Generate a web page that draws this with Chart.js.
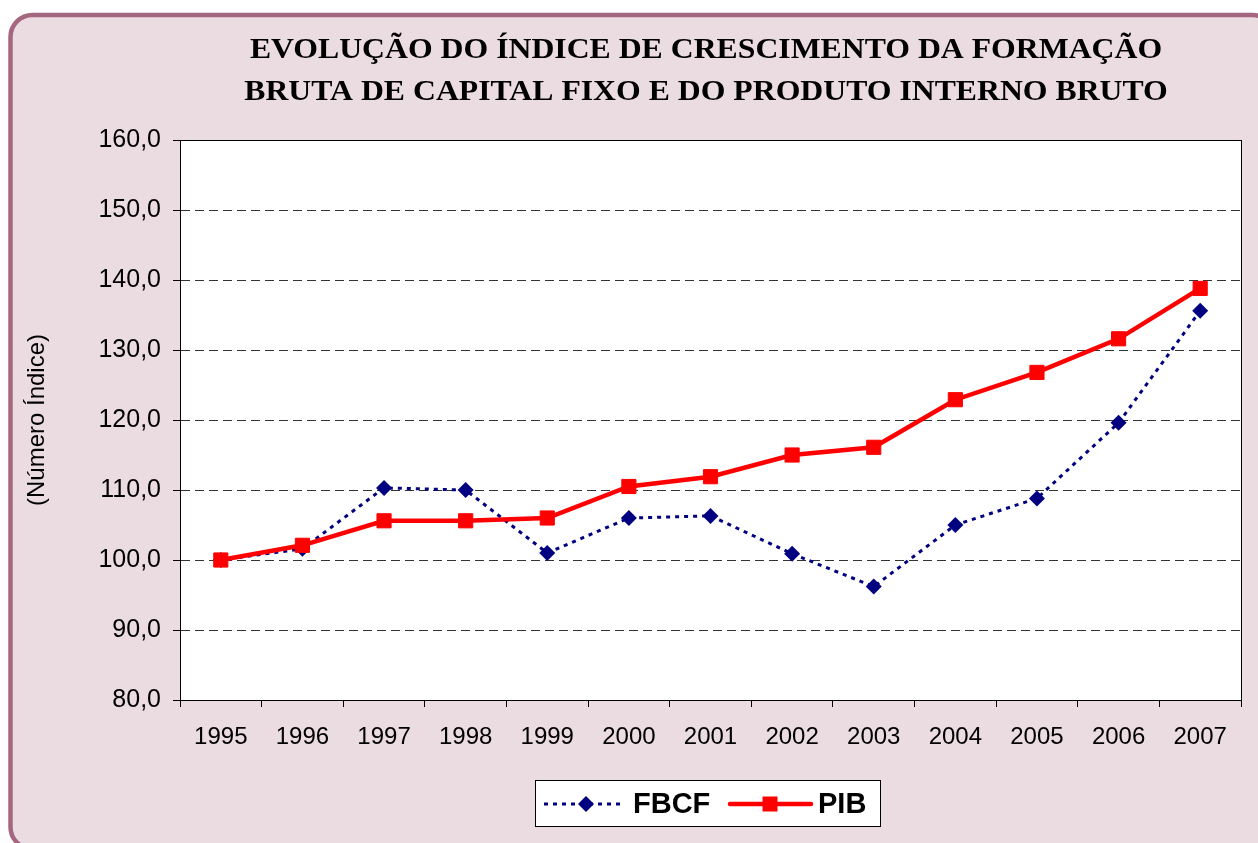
<!DOCTYPE html>
<html>
<head>
<meta charset="utf-8">
<script src="https://cdn.jsdelivr.net/npm/chart.js@4/dist/chart.umd.min.js"></script>
<style>
  html, body { margin: 0; padding: 0; background: #ffffff; }
  canvas { display: block; }
</style>
</head>
<body>
<canvas id="chart" width="1258" height="843"></canvas>
<script>
// values
const years = ['1995', '1996', '1997', '1998', '1999', '2000', '2001', '2002', '2003', '2004', '2005', '2006', '2007'];
const fbcf = [100.0, 101.6, 110.3, 110.0, 101.0, 106.0, 106.3, 100.9, 96.2, 105.0, 108.8, 119.6, 135.6];
const pib = [100.0, 102.1, 105.6, 105.6, 106.0, 110.5, 111.9, 115.0, 116.1, 122.9, 126.8, 131.6, 138.8];
const titleLines = ['EVOLUÇÃO DO ÍNDICE DE CRESCIMENTO DA FORMAÇÃO', 'BRUTA DE CAPITAL FIXO E DO PRODUTO INTERNO BRUTO'];
const yTitle = '(Número Índice)';

const NAVY = '#000080';
const RED = '#ff0000';

// outer pink box, white plot area, frame, title and legend
const decorPlugin = {
    id: 'decor',
    beforeDraw(chart) {
        const ctx = chart.ctx;
        const a = chart.chartArea;
        ctx.save();
        ctx.fillStyle = '#ffffff';
        ctx.fillRect(0, 0, chart.width, chart.height);
        ctx.beginPath();
        ctx.roundRect(10.5, 15, 1264, 834, 22);
        ctx.fillStyle = '#ebdce2';
        ctx.fill();
        ctx.lineWidth = 4.5;
        ctx.strokeStyle = '#a4677f';
        ctx.stroke();
        ctx.fillStyle = '#ffffff';
        ctx.fillRect(a.left, a.top, a.right - a.left, a.bottom - a.top);
        ctx.restore();
    },
    afterDraw(chart) {
        const ctx = chart.ctx;
        const a = chart.chartArea;
        ctx.save();
        // plot frame
        ctx.strokeStyle = '#000';
        ctx.lineWidth = 1;
        ctx.strokeRect(Math.round(a.left) + 0.5, Math.round(a.top) + 0.5, Math.round(a.right - a.left), Math.round(a.bottom - a.top));

        // title
        ctx.fillStyle = '#000';
        ctx.font = 'bold 30px "Liberation Serif", "Times New Roman", serif';
        ctx.textAlign = 'center';
        ctx.textBaseline = 'alphabetic';
        titleLines.forEach((line, i) => {
            ctx.save();
            ctx.translate(706, 58 + i * 42);
            ctx.scale(1.058, 1);
            ctx.fillText(line, 0, 0);
            ctx.restore();
        });

        // legend
        const lx = 535, ly = 780, lw = 345, lh = 46;
        ctx.fillStyle = '#fff';
        ctx.fillRect(lx, ly, lw, lh);
        ctx.strokeStyle = '#000';
        ctx.strokeRect(lx + 0.5, ly + 0.5, lw, lh);
        const cy = ly + 24;

        ctx.strokeStyle = NAVY;
        ctx.lineWidth = 3;
        ctx.setLineDash([4, 5]);
        ctx.beginPath();
        ctx.moveTo(544, cy);
        ctx.lineTo(622, cy);
        ctx.stroke();
        ctx.setLineDash([]);
        ctx.fillStyle = NAVY;
        ctx.beginPath();
        ctx.moveTo(586 - 8, cy);
        ctx.lineTo(586, cy - 8);
        ctx.lineTo(586 + 8, cy);
        ctx.lineTo(586, cy + 8);
        ctx.closePath();
        ctx.fill();

        ctx.strokeStyle = RED;
        ctx.lineWidth = 4.5;
        ctx.lineCap = 'round';
        ctx.beginPath();
        ctx.moveTo(730, cy);
        ctx.lineTo(811, cy);
        ctx.stroke();
        ctx.fillStyle = RED;
        ctx.fillRect(770 - 7.5, cy - 7.5, 15, 15);

        ctx.fillStyle = '#000';
        ctx.font = 'bold 29px "Liberation Sans", Arial, sans-serif';
        ctx.textAlign = 'left';
        ctx.textBaseline = 'middle';
        ctx.fillText('FBCF', 633, cy + 1);
        ctx.fillText('PIB', 818, cy + 1);
        ctx.restore();
    }
};

const xFont = { family: '"Liberation Sans", Arial, sans-serif', size: 24 };
const yFont = { family: '"Liberation Sans", Arial, sans-serif', size: 25 };

new Chart(document.getElementById('chart'), {
    type: 'line',
    data: {
        labels: years,
        datasets: [
            {
                label: 'FBCF',
                data: fbcf,
                order: 1,
                borderColor: NAVY,
                backgroundColor: NAVY,
                borderWidth: 3,
                borderDash: [4, 5],
                tension: 0,
                pointStyle: 'rectRot',
                pointRadius: 8,
                pointBorderWidth: 0,
                pointBackgroundColor: NAVY,
                fill: false
            },
            {
                label: 'PIB',
                data: pib,
                order: 0,
                borderColor: RED,
                backgroundColor: RED,
                borderWidth: 4.5,
                tension: 0,
                pointStyle: 'rect',
                pointRadius: 10,
                pointBorderWidth: 1,
                pointBackgroundColor: RED,
                pointBorderColor: RED,
                fill: false
            }
        ]
    },
    options: {
        responsive: false,
        animation: false,
        devicePixelRatio: 1,
        layout: { padding: { left: 0, top: 140, right: 17, bottom: 0 } },
        plugins: {
            legend: { display: false },
            title: { display: false },
            tooltip: { enabled: false }
        },
        scales: {
            x: {
                offset: true,
                afterFit: (scale) => { scale.height = 143; },
                grid: {
                    offset: true,
                    drawOnChartArea: false,
                    tickLength: 7,
                    tickColor: '#000',
                    color: '#000'
                },
                border: { color: '#000', width: 1 },
                ticks: { color: '#000', font: xFont, padding: 16, maxRotation: 0, autoSkip: false }
            },
            y: {
                min: 80,
                max: 160,
                afterFit: (scale) => { scale.width = 180; },
                grid: {
                    color: '#333',
                    tickLength: 7,
                    tickColor: '#000',
                    tickBorderDash: []
                },
                border: { color: '#000', width: 1, dash: [9, 5] },
                ticks: {
                    stepSize: 10,
                    color: '#000',
                    font: yFont,
                    padding: 12,
                    callback: (v) => v.toFixed(1).replace('.', ',')
                },
                title: {
                    display: true,
                    text: yTitle,
                    color: '#000',
                    font: xFont,
                    padding: { top: 23, bottom: 0 }
                }
            }
        }
    },
    plugins: [decorPlugin]
});
</script>
</body>
</html>
